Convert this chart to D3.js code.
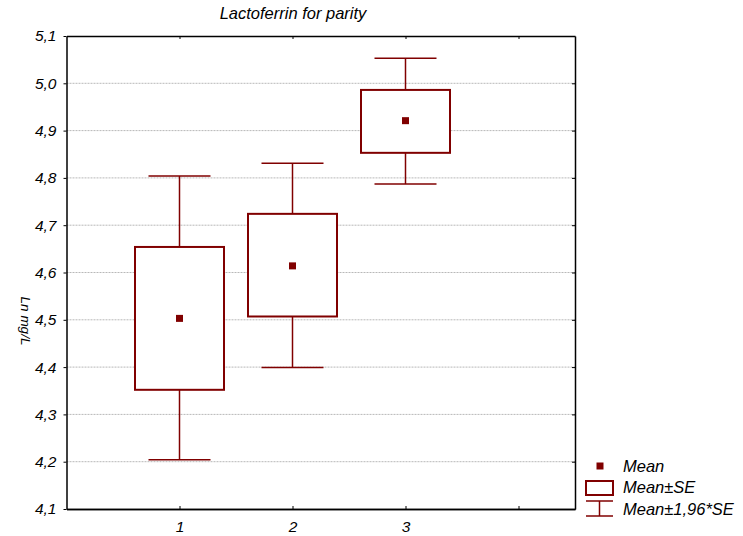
<!DOCTYPE html>
<html>
<head>
<meta charset="utf-8">
<script src="https://cdn.jsdelivr.net/npm/d3@7"></script>
<style>
  body { margin: 0; background: #fff; }
  svg { display: block; font-family: "Liberation Sans", Arial, sans-serif; font-style: italic; }
</style>
</head>
<body>
<svg id="chart" width="743" height="536"></svg>
<script>
// Lactoferrin (Ln mg/L) by parity group
const groups   = [1, 2, 3];
const means    = [4.503, 4.614, 4.921];
const seLow    = [4.352, 4.507, 4.853];
const seHigh   = [4.654, 4.724, 4.986];
const ciLow    = [4.204, 4.399, 4.787];
const ciHigh   = [4.804, 4.831, 5.053];
const yTicks   = [4.1, 4.2, 4.3, 4.4, 4.5, 4.6, 4.7, 4.8, 4.9, 5.0, 5.1];
const xTicks   = [1, 2, 3, 4];
const title    = "Lactoferrin for parity";
const yLabel   = "Ln mg/L";
const legendItems = ["Mean", "Mean\u00b1SE", "Mean\u00b11,96*SE"];

const color = "#800000";
const svg = d3.select("#chart");
const m = { left: 66.5, right: 575, top: 36, bottom: 509 };

const x = d3.scaleLinear().domain([0, 4.5]).range([m.left, m.right]);
const y = d3.scaleLinear().domain([4.1, 5.1]).range([m.bottom, m.top]);
const fmt = d => d3.format(".1f")(d).replace(".", ",");

// horizontal grid lines
svg.append("g").selectAll("line")
  .data(yTicks.slice(1, -1))
  .join("line")
  .attr("x1", m.left).attr("x2", m.right)
  .attr("y1", d => y(d)).attr("y2", d => y(d))
  .attr("stroke", "#b8b8b8").attr("stroke-width", 1)
  .attr("stroke-dasharray", "2,1");

// axes
const axisStyle = g => {
  g.select(".domain").attr("stroke", "#000").attr("stroke-width", 1.5);
  g.selectAll(".tick line").attr("stroke", "#000");
  g.selectAll("text").attr("fill", "#000").style("font-size", "15.5px").style("font-style", "italic");
};
svg.append("g").attr("transform", `translate(${m.left},0)`)
  .call(d3.axisLeft(y).tickValues(yTicks).tickFormat(fmt).tickSize(3).tickSizeOuter(0).tickPadding(7))
  .call(axisStyle);
svg.append("g").attr("transform", `translate(${m.right},0)`)
  .call(d3.axisLeft(y).tickValues(yTicks).tickFormat("").tickSize(3).tickSizeOuter(0))
  .call(axisStyle);
svg.append("g").attr("transform", `translate(0,${m.bottom})`)
  .call(d3.axisTop(x).tickValues(xTicks).tickFormat("").tickSize(3).tickSizeOuter(0))
  .call(axisStyle);
svg.append("g").attr("transform", `translate(0,${m.bottom})`)
  .call(d3.axisBottom(x).tickValues(groups).tickFormat(d3.format("d")).tickSize(0).tickSizeOuter(0).tickPadding(12))
  .call(axisStyle);
svg.append("g").attr("transform", `translate(0,${m.top})`)
  .call(d3.axisBottom(x).tickValues(xTicks).tickFormat("").tickSize(3).tickSizeOuter(0))
  .call(axisStyle);

// box/whisker plot marks
const boxHalf = 44.5, capHalf = 31, sq = 7;
const g = svg.append("g");
groups.forEach((k, i) => {
  const cx = x(k);
  g.append("line").attr("x1", cx).attr("x2", cx)
    .attr("y1", y(ciHigh[i])).attr("y2", y(seHigh[i]))
    .attr("stroke", color).attr("stroke-width", 1.5);
  g.append("line").attr("x1", cx).attr("x2", cx)
    .attr("y1", y(seLow[i])).attr("y2", y(ciLow[i]))
    .attr("stroke", color).attr("stroke-width", 1.5);
  [ciHigh[i], ciLow[i]].forEach(v => {
    g.append("line").attr("x1", cx - capHalf).attr("x2", cx + capHalf)
      .attr("y1", y(v)).attr("y2", y(v))
      .attr("stroke", color).attr("stroke-width", 1.5);
  });
  g.append("rect")
    .attr("x", cx - boxHalf).attr("width", boxHalf * 2)
    .attr("y", y(seHigh[i])).attr("height", y(seLow[i]) - y(seHigh[i]))
    .attr("fill", "#fff").attr("stroke", color).attr("stroke-width", 2);
  g.append("rect")
    .attr("x", cx - sq / 2).attr("y", y(means[i]) - sq / 2)
    .attr("width", sq).attr("height", sq).attr("fill", color);
});

// title and y-axis label
svg.append("text").attr("x", 293).attr("y", 19).attr("text-anchor", "middle")
  .style("font-size", "16.5px").text(title);
svg.append("text").attr("transform", "translate(21,321) rotate(90)")
  .attr("text-anchor", "middle").style("font-size", "13.5px").text(yLabel);

// legend
const lg = svg.append("g");
lg.append("rect").attr("x", 600 - 3.5).attr("y", 466 - 3.5).attr("width", 7).attr("height", 7).attr("fill", color);
lg.append("rect").attr("x", 586).attr("y", 481).attr("width", 27).attr("height", 14)
  .attr("fill", "#fff").attr("stroke", color).attr("stroke-width", 2);
lg.append("line").attr("x1", 586).attr("x2", 613).attr("y1", 501).attr("y2", 501).attr("stroke", color).attr("stroke-width", 1.5);
lg.append("line").attr("x1", 586).attr("x2", 613).attr("y1", 516).attr("y2", 516).attr("stroke", color).attr("stroke-width", 1.5);
lg.append("line").attr("x1", 599.5).attr("x2", 599.5).attr("y1", 501).attr("y2", 516).attr("stroke", color).attr("stroke-width", 1.5);
lg.selectAll("text").data(legendItems).join("text")
  .attr("x", 623).attr("y", (d, i) => 471.5 + i * 21.5)
  .style("font-size", "16.5px").text(d => d);
</script>
</body>
</html>
